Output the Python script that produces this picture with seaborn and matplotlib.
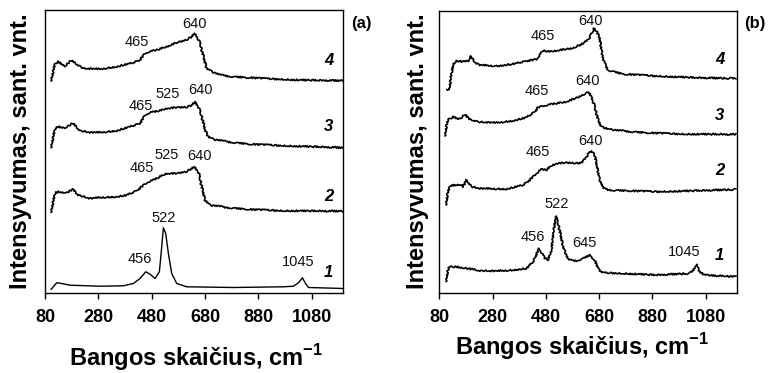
import numpy as np
import pandas as pd
import matplotlib
matplotlib.use("Agg")
import matplotlib.pyplot as plt
import seaborn as sns

# ---------------- data ----------------
# panel (a)
a4_wn = [102.5, 117.5, 130, 155, 177.5, 223.75, 286.25, 348.75, 411.25, 436.25, 455, 473.75, 498.75,
         536.25, 573.75, 611.25, 630, 640, 648.75, 661.25, 673.75, 686.25, 705, 736.25, 786.25, 911.25,
         1036.25, 1198.75]
a4_int = [211.3, 229, 230.7, 226.3, 231.7, 224, 223.3, 225.7, 229.7, 232.3, 239, 240.7, 242.3,
          245.7, 249.7, 252.3, 255.7, 259, 256.3, 249, 235.7, 224, 220.7, 217.3, 215.7, 213.7,
          212.3, 211.7]

a3_wn = [102.5, 117.5, 130, 155, 167.5, 183.75, 211.25, 248.75, 286.25, 348.75, 398.75, 436.25, 455,
         473.75, 511.25, 536.25, 573.75, 611.25, 630, 642.5, 655, 667.5, 680, 692.5, 711.25, 761.25,
         848.75, 973.75, 1198.75]
a3_int = [144.7, 164, 165.7, 164.7, 166.3, 169, 161.7, 160, 160, 161.7, 165.7, 169, 177.3,
          179.7, 181.7, 184, 185, 185, 187.3, 190.7, 185.7, 175.7, 162.3, 155.7, 153, 150.7,
          148.3, 146.7, 144.7]

a2_wn = [102.5, 117.5, 130, 161.25, 183.75, 205, 248.75, 286.25, 348.75, 386.25, 423.75, 461.25,
         486.25, 511.25, 536.25, 573.75, 611.25, 640, 655, 667.5, 680, 698.75, 761.25, 848.75,
         973.75, 1198.75]
a2_int = [80, 99.7, 100.7, 99.7, 103, 97.3, 94, 95, 95.7, 97.3, 101.7, 109.7,
          112.3, 115.7, 119, 119, 120.7, 125.7, 120.7, 105.7, 92.3, 87.3, 85, 83,
          81.7, 81.3]

a1_wn = [102.5, 123.75, 142.5, 173.75, 286.25, 373.75, 411.25, 436.25, 457.5, 473.75, 492.5, 508.75,
         517.5, 523.75, 532.5, 542.5, 555, 573.75, 611.25, 786.25, 973.75, 1011.25, 1030, 1045,
         1055, 1067.5, 1198.75]
a1_int = [3, 9.7, 9, 7.3, 6.3, 6.7, 9, 14, 20.7, 18.3, 14, 20.7,
          45.7, 64.7, 59, 39, 19, 9, 5.7, 5, 5.7, 6.3, 9.7, 14.7,
          9.7, 5, 4]

# panel (b)
b4_wn = [107.5, 117.5, 123.75, 132.5, 145, 170, 188.75, 198.75, 213.75, 232.5, 295, 357.5, 407.5,
         445, 470, 495, 532.5, 582.5, 620, 645, 661.25, 670, 682.5, 695, 713.75, 770, 895, 1045, 1195]
b4_int = [203.3, 203.3, 216, 229.3, 231.7, 231, 231.7, 236.7, 230.3, 227.7, 226.7, 228.7, 231.7,
          233.3, 242, 241, 242.7, 244.3, 249.3, 255.3, 264.3, 262, 254.3, 232.7, 222.7, 218.7, 216.7,
          215, 214.3]

b3_wn = [101.25, 107.5, 113.75, 132.5, 151.25, 163.75, 176.25, 192.5, 232.5, 295, 357.5, 407.5,
         438.75, 451.25, 470, 507.5, 557.5, 607.5, 632.5, 638.75, 651.25, 663.75, 676.25, 688.75,
         720, 757.5, 857.5, 982.5, 1195]
b3_int = [156.7, 167.7, 173.3, 176, 174, 175.3, 178.3, 173.3, 170.7, 170, 172, 175.3,
          181, 185.3, 186.7, 188.7, 191, 196, 199.3, 201, 196.7, 186, 172.7, 166,
          163.3, 162, 160, 158.7, 158.3]

b2_wn = [105, 111.25, 120, 138.75, 157.5, 170, 182.5, 201.25, 232.5, 332.5, 395, 420, 445, 463.75,
         482.5, 501.25, 520, 557.5, 595, 613.75, 626.25, 651.25, 663.75, 672.5, 682.5, 695, 720,
         895, 1045, 1195]
b2_int = [87.7, 99.3, 107, 107.7, 108.3, 106, 112.7, 106, 104.3, 103.7, 107.7, 112.7, 119.3, 123.3,
          122.7, 127, 129.3, 130, 129.3, 130, 134.3, 142, 137.7, 126, 112.7, 104.3, 102.7,
          101, 102, 103.3]

b1_wn = [105, 111.25, 117.5, 145, 182.5, 232.5, 295, 357.5, 407.5, 432.5, 455, 476.25, 488.75,
         501.25, 510, 517.5, 526.25, 545, 563.75, 595, 620, 645, 663.75, 676.25, 688.75, 770,
         895, 1020, 1035, 1045, 1057.5, 1076.25, 1195]
b1_int = [11, 21, 26, 26, 24.3, 22, 21.7, 22.7, 24.3, 31, 44.3, 34.3, 32.7,
          42.7, 62.7, 76.7, 69.3, 46, 32.7, 32, 34.3, 37.7, 32.7, 24.3, 20, 19.3,
          17.7, 19.3, 22.7, 28.7, 21, 17.7, 16]

x_ticks = [80, 280, 480, 680, 880, 1080]

a_peak_labels = ["640", "465", "465", "525", "640", "465", "525", "640", "522", "456", "1045"]
b_peak_labels = ["640", "465", "640", "465", "640", "465", "522", "456", "645", "1045"]
curve_labels = ["4", "3", "2", "1"]

# ---------------- assemble ----------------
def frame(panel, curves):
    rows = []
    for name, wn, inten in curves:
        for i, (w, v) in enumerate(zip(wn, inten)):
            rows.append((panel, name, i, w, v))
    return pd.DataFrame(rows, columns=["panel", "curve", "idx", "wn", "intensity"])

df_a = frame("a", [("1", a1_wn, a1_int), ("2", a2_wn, a2_int), ("3", a3_wn, a3_int), ("4", a4_wn, a4_int)])
df_b = frame("b", [("1", b1_wn, b1_int), ("2", b2_wn, b2_int), ("3", b3_wn, b3_int), ("4", b4_wn, b4_int)])

sns.set_theme(style="white")
plt.rcParams["font.family"] = ["Liberation Sans", "DejaVu Sans"]
plt.rcParams["mathtext.fontset"] = "custom"
plt.rcParams["mathtext.rm"] = "Liberation Sans"
plt.rcParams["mathtext.bf"] = "Liberation Sans:bold"
plt.rcParams["text.color"] = "black"
plt.rcParams["xtick.color"] = "black"
plt.rcParams["axes.labelcolor"] = "black"

fig = plt.figure(figsize=(7.71, 3.73), dpi=100)
W, H = 771, 373
ax_a = fig.add_axes([45 / W, 1 - 292.5 / H, 298 / W, 282.2 / H])
ax_b = fig.add_axes([439.3 / W, 1 - 292.7 / H, 297.4 / W, 282 / H])

for ax, df, smooth_lowest in ((ax_a, df_a, True), (ax_b, df_b, False)):
    sns.lineplot(data=df, x="wn", y="intensity", units="curve", estimator=None, sort=False,
                 color="black", lw=1.2, ax=ax, legend=False)
    for ln in ax.get_lines():
        yd = np.asarray(ln.get_ydata(), dtype=float)
        if smooth_lowest and yd.size and np.nanmax(yd) < 70:
            ln.set_linewidth(1.0)
            continue
        ln.set_sketch_params(scale=0.8, length=1.5, randomness=3)
    ax.set_xlim(80, 1197)
    ax.set_ylim(0, 282)
    ax.set_xticks(x_ticks)
    ax.set_xticklabels([str(t) for t in x_ticks], fontsize=13, fontweight="bold", color="black")
    ax.set_yticks([])
    ax.set_xlabel("")
    ax.set_ylabel("")
    ax.tick_params(axis="x", direction="out", length=4, width=1, color="black", pad=8, bottom=True)
    for s in ax.spines.values():
        s.set_color("black")
        s.set_linewidth(1.0)
        s.set_visible(True)

# peak labels
a_pos = [(640, 268.3), (423.75, 250.7), (438.75, 186.3), (540, 198), (661, 202.3),
         (442.5, 124), (536, 137.3), (659, 136.3), (523.75, 74), (434, 33), (1030, 30.7)]
for t, (x, y) in zip(a_peak_labels, a_pos):
    ax_a.text(x, y, t, fontsize=10.5, ha="center", va="center", color="#111111")
b_pos = [(647.5, 272), (470, 256.7), (635, 211.7), (445, 202), (647.5, 151.7), (451.25, 141),
         (520, 88.7), (430, 55.3), (626.25, 50), (1001.25, 41)]
for t, (x, y) in zip(b_peak_labels, b_pos):
    ax_b.text(x, y, t, fontsize=10.5, ha="center", va="center", color="#111111")

# curve numbers
for t, y in zip(curve_labels, [232.3, 166.3, 95.7, 19.7]):
    ax_a.text(1142.5, y, t, fontsize=12, fontweight="bold", style="italic", ha="center", va="center")
for t, y in zip(curve_labels, [232.7, 177.7, 122, 37.7]):
    ax_b.text(1132.5, y, t, fontsize=12, fontweight="bold", style="italic", ha="center", va="center")

ax_a.text(1.063, 0.954, "(a)", transform=ax_a.transAxes, fontsize=12, fontweight="bold",
          ha="center", va="center")
ax_b.text(1.061, 0.954, "(b)", transform=ax_b.transAxes, fontsize=12, fontweight="bold",
          ha="center", va="center")

ylab = "Intensyvumas, sant. vnt."
xlab = r"Bangos skaičius, cm$^{\mathbf{-1}}$"
fig.text(21 / W, 1 - 151 / H, ylab, rotation=90, fontsize=17, fontweight="bold", ha="center", va="center")
fig.text(418 / W, 1 - 151 / H, ylab, rotation=90, fontsize=17, fontweight="bold", ha="center", va="center")
fig.text(196 / W, 1 - 358 / H, xlab, fontsize=17, fontweight="bold", ha="center", va="center")
fig.text(582 / W, 1 - 347 / H, xlab, fontsize=17, fontweight="bold", ha="center", va="center")

fig.savefig("out.png", dpi=100)
